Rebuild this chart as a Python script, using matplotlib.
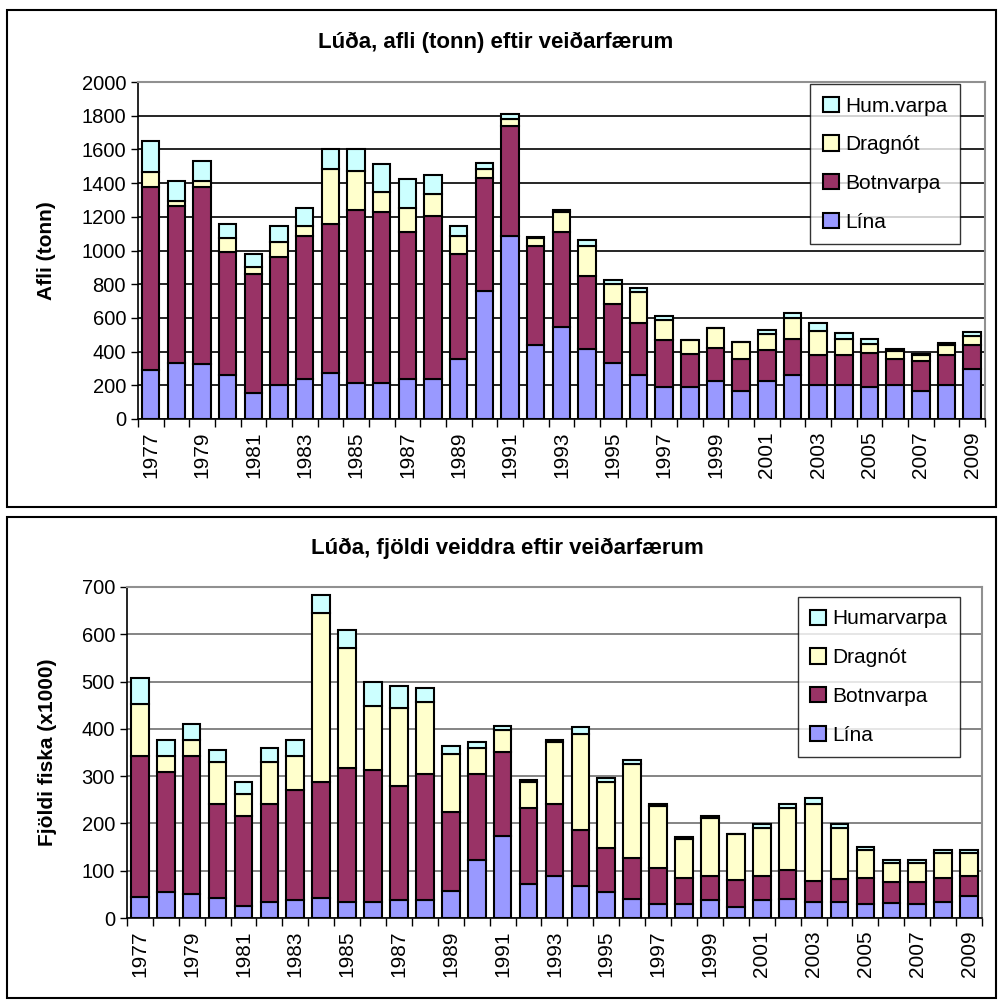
import numpy as np
import matplotlib
matplotlib.use("Agg")
from matplotlib import pyplot as plt
import matplotlib.patches as patches

plt.rcParams['font.family'] = ['Liberation Sans', 'DejaVu Sans']

years = list(range(1977, 2010))

# afli (tonn)
afli_lina = [288, 333, 324, 264, 154, 200, 240, 273, 214, 214, 240, 238, 355, 761, 1085, 439, 548,
             417, 333, 260, 190, 190, 228, 168, 224, 264, 200, 200, 188, 200, 164, 200, 297]
afli_botn = [1086, 934, 1050, 726, 707, 764, 845, 884, 1027, 1017, 867, 967, 625, 671, 651, 587, 559,
             432, 349, 312, 277, 193, 191, 189, 183, 209, 179, 179, 201, 157, 179, 179, 142]
afli_drag = [93, 25, 38, 86, 39, 86, 60, 325, 229, 117, 144, 133, 108, 50, 46, 47, 122,
             179, 117, 179, 119, 84, 119, 100, 99, 125, 143, 97, 54, 46, 34, 60, 52]
afli_hum = [184, 120, 117, 83, 80, 95, 110, 119, 131, 167, 171, 108, 59, 36, 28, 10, 14,
            36, 26, 26, 26, 0, 0, 0, 20, 34, 50, 36, 33, 10, 8, 10, 25]

# fjoldi (x1000)
fj_lina = [45, 54, 50, 42, 25, 33, 38, 42, 33, 33, 38, 38, 58, 122, 173, 71, 88,
           67, 55, 41, 29, 29, 38, 23, 38, 41, 33, 33, 29, 32, 29, 33, 46]
fj_botn = [298, 255, 293, 199, 190, 208, 233, 246, 284, 280, 241, 266, 167, 182, 178, 161, 153,
           119, 93, 86, 76, 55, 50, 57, 51, 60, 46, 50, 55, 44, 47, 51, 43]
fj_drag = [110, 34, 33, 89, 47, 89, 72, 358, 254, 136, 166, 153, 122, 56, 47, 55, 131,
           203, 139, 198, 132, 84, 123, 97, 102, 131, 162, 108, 59, 41, 41, 54, 49]
fj_hum = [55, 33, 34, 25, 26, 30, 33, 37, 39, 50, 46, 30, 17, 12, 9, 5, 4,
          14, 10, 9, 4, 4, 4, 0, 7, 9, 12, 7, 8, 5, 5, 5, 5]

colors = ['#9999FF', '#993366', '#FFFFCC', '#CCFFFF']


def make_graph(g, series, labels, ylabel, ymax, ystep, gridcolor, leg_anchor):
    x = np.arange(len(years))
    bottom = np.zeros(len(years))
    bars = []
    for vals, lab, col in zip(series, labels, colors):
        b = g.bar(x, vals, width=0.68, bottom=bottom, color=col, edgecolor='black',
                  linewidth=1.5, label=lab, zorder=3)
        bars.append(b)
        bottom = bottom + np.array(vals)

    g.set_xlim(-0.5, len(years) - 0.5)
    g.set_ylim(0, ymax)
    g.set_yticks(np.arange(0, ymax + 1, ystep))
    g.yaxis.grid(True, color=gridcolor, linewidth=1.2, zorder=0)
    g.tick_params(axis='y', labelsize=14.5, length=5, width=1, direction='out')

    g.set_xticks(x[::2])
    g.set_xticklabels([str(y) for y in years[::2]], rotation=90, fontsize=15)
    g.set_xticks(np.arange(-0.5, len(years), 1), minor=True)
    g.tick_params(axis='x', which='major', length=0, pad=9)
    g.tick_params(axis='x', which='minor', length=6, width=1, direction='out')

    for s in ['top', 'right']:
        g.spines[s].set_color('#909090')
        g.spines[s].set_linewidth(1.5)
    for s in ['left', 'bottom']:
        g.spines[s].set_color('black')
        g.spines[s].set_linewidth(1.2)

    g.set_ylabel(ylabel, fontsize=15, fontweight='bold')

    leg = g.legend(bars[::-1], labels[::-1], loc='upper right', bbox_to_anchor=leg_anchor,
                   fontsize=15, frameon=True, fancybox=False, edgecolor='black',
                   handlelength=0.75, handleheight=0.75, handletextpad=0.3,
                   labelspacing=0.95, borderpad=0.6, borderaxespad=0)
    leg.get_frame().set_linewidth(1.0)
    leg.set_zorder(5)


fig = plt.figure(figsize=(9.99, 10), dpi=100)

# outer chart frames
fig.patches.append(patches.Rectangle((0.007, 0.493), 0.99, 0.497, transform=fig.transFigure,
                                     fill=False, edgecolor='black', linewidth=1.5))
fig.patches.append(patches.Rectangle((0.007, 0.002), 0.99, 0.481, transform=fig.transFigure,
                                     fill=False, edgecolor='black', linewidth=1.5))

g = fig.add_axes([0.138, 0.581, 0.848, 0.337])
make_graph(g, [afli_lina, afli_botn, afli_drag, afli_hum],
           ['Lína', 'Botnvarpa', 'Dragnót', 'Hum.varpa'],
           'Afli (tonn)', 2000, 200, 'black', (0.970, 0.994))
g.yaxis.set_label_coords(-0.097, 0.5)
fig.text(0.496, 0.958, 'Lúða, afli (tonn) eftir veiðarfærum', ha='center', va='center',
         fontsize=16, fontweight='bold')

g = fig.add_axes([0.127, 0.082, 0.856, 0.331])
make_graph(g, [fj_lina, fj_botn, fj_drag, fj_hum],
           ['Lína', 'Botnvarpa', 'Dragnót', 'Humarvarpa'],
           'Fjöldi fiska (x1000)', 700, 100, '#707070', (0.974, 0.97))
g.yaxis.set_label_coords(-0.082, 0.5)
fig.text(0.508, 0.452, 'Lúða, fjöldi veiddra eftir veiðarfærum', ha='center', va='center',
         fontsize=16, fontweight='bold')

plt.savefig("out.png", dpi=100)
